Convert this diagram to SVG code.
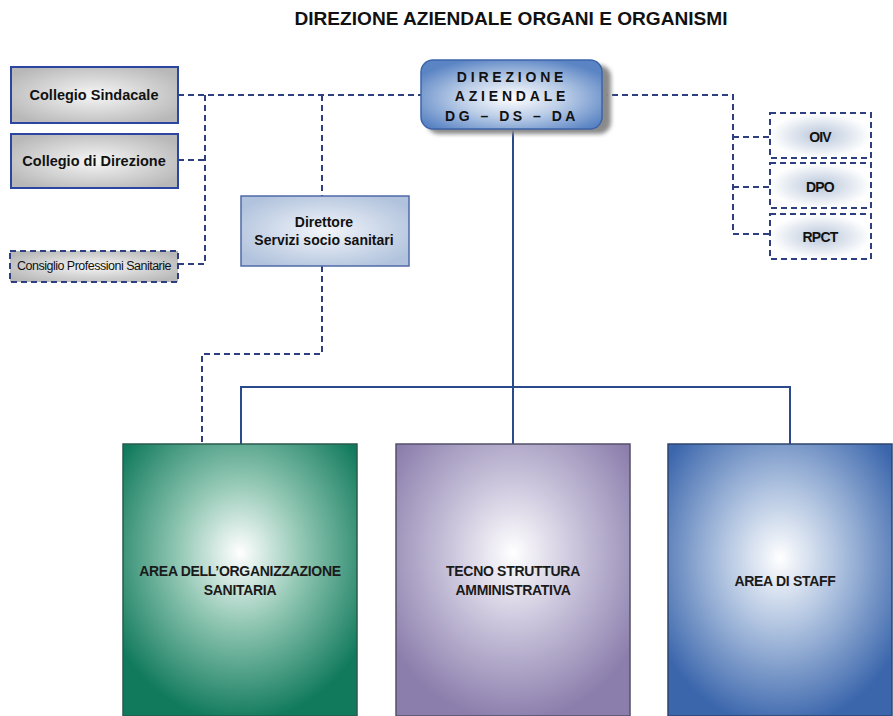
<svg xmlns="http://www.w3.org/2000/svg" width="893" height="716" viewBox="0 0 893 716">
<style>
.t{font-family:"Liberation Sans",Arial,sans-serif;fill:#111;text-anchor:middle}
.b{font-weight:bold}
.dash{fill:none;stroke:#2e3f80;stroke-width:2;stroke-dasharray:6,4}
.solid{fill:none;stroke:#2b4a8c;stroke-width:2}
.area{font-size:14px;font-weight:bold;letter-spacing:-0.3px;fill:#1a1a1a}
.sm{font-size:14px;font-weight:bold;letter-spacing:-0.8px}
</style>
<defs>
<radialGradient id="gGreen" cx="0.5" cy="0.4" r="0.62">
<stop offset="0" stop-color="#ffffff"/><stop offset="0.45" stop-color="#8cc4b0"/><stop offset="1" stop-color="#117a5c"/>
</radialGradient>
<radialGradient id="gPurple" cx="0.5" cy="0.4" r="0.62">
<stop offset="0" stop-color="#ffffff"/><stop offset="0.45" stop-color="#c8c2da"/><stop offset="1" stop-color="#8b7eac"/>
</radialGradient>
<radialGradient id="gBlue" cx="0.5" cy="0.42" r="0.62">
<stop offset="0" stop-color="#ffffff"/><stop offset="0.45" stop-color="#a9bedd"/><stop offset="1" stop-color="#3b66ac"/>
</radialGradient>
<radialGradient id="gDir" cx="0.5" cy="0.55" r="0.6">
<stop offset="0" stop-color="#ffffff"/><stop offset="0.5" stop-color="#b8cbe6"/><stop offset="1" stop-color="#5a84c4"/>
</radialGradient>
<radialGradient id="gGray" cx="0.5" cy="0.5" r="0.6">
<stop offset="0" stop-color="#f6f6f6"/><stop offset="1" stop-color="#b8b8b8"/>
</radialGradient>
<radialGradient id="gLight" cx="0.5" cy="0.5" r="0.6">
<stop offset="0" stop-color="#f2f5fa"/><stop offset="1" stop-color="#b0c2dc"/>
</radialGradient>
<radialGradient id="gSmall" cx="0.5" cy="0.5" r="0.5">
<stop offset="0" stop-color="#b8c6da"/><stop offset="1" stop-color="#ffffff"/>
</radialGradient>
<filter id="sh" x="-10%" y="-10%" width="130%" height="140%">
<feGaussianBlur stdDeviation="2"/>
</filter>
</defs>

<text class="t b" x="511" y="25" font-size="17.5" textLength="433" lengthAdjust="spacingAndGlyphs">DIREZIONE AZIENDALE ORGANI E ORGANISMI</text>

<g id="connectors">
<path class="dash" d="M178,95 H421"/>
<path class="dash" d="M205,95 V264 H178"/>
<path class="dash" d="M178,160 H205"/>
<path class="dash" d="M322,95 V196"/>
<path class="dash" d="M322,266 V354 H202 V444"/>
<path class="dash" d="M602,95 H733 V234 H770"/>
<path class="dash" d="M733,137 H770"/>
<path class="dash" d="M733,187 H770"/>
<path class="solid" d="M513,129 V444"/>
<path class="solid" d="M241,444 V387 H790 V444"/>
</g>

<g id="direzione">
<rect x="427" y="65" width="184" height="69" rx="12" fill="#8a8a8a" filter="url(#sh)"/>
<rect x="421" y="60" width="181" height="69" rx="12" fill="url(#gDir)" stroke="#3d64a8" stroke-width="1.5"/>
<text class="t b" x="512" y="82" font-size="14" letter-spacing="3.8" fill="#222">DIREZIONE</text>
<text class="t b" x="512" y="101" font-size="14" letter-spacing="3.8">AZIENDALE</text>
<text class="t b" x="512" y="121" font-size="14" letter-spacing="3.5">DG – DS – DA</text>
</g>

<g id="collegio-sindacale">
<rect x="11" y="67" width="167" height="56" fill="url(#gGray)" stroke="#2b46a0" stroke-width="2"/>
<text class="t b" x="94" y="100" font-size="14.5">Collegio Sindacale</text>
</g>
<g id="collegio-direzione">
<rect x="11" y="134" width="167" height="54" fill="url(#gGray)" stroke="#2b46a0" stroke-width="2"/>
<text class="t b" x="94" y="166" font-size="14.5">Collegio di Direzione</text>
</g>
<g id="consiglio">
<rect x="10" y="251" width="168" height="31" fill="url(#gGray)"/>
<rect x="10" y="251" width="168" height="31" class="dash"/>
<text class="t" x="94" y="270" font-size="12.5" letter-spacing="-0.5">Consiglio Professioni Sanitarie</text>
</g>

<g id="direttore">
<rect x="241" y="196" width="168" height="70" fill="url(#gLight)" stroke="#4f6aa8" stroke-width="1.5"/>
<text class="t b" x="324" y="227" font-size="14">Direttore</text>
<text class="t b" x="324" y="245" font-size="14">Servizi socio sanitari</text>
</g>

<g id="oiv">
<rect x="770" y="113" width="101" height="45" fill="url(#gSmall)"/>
<rect x="770" y="113" width="101" height="45" class="dash"/>
<text class="t sm" x="820" y="142">OIV</text>
</g>
<g id="dpo">
<rect x="770" y="163" width="101" height="45" fill="url(#gSmall)"/>
<rect x="770" y="163" width="101" height="45" class="dash"/>
<text class="t sm" x="820" y="192">DPO</text>
</g>
<g id="rpct">
<rect x="770" y="214" width="101" height="45" fill="url(#gSmall)"/>
<rect x="770" y="214" width="101" height="45" class="dash"/>
<text class="t sm" x="820" y="242">RPCT</text>
</g>

<g id="area-sanitaria">
<rect x="123" y="444" width="234" height="272" fill="url(#gGreen)" stroke="#2a5a4c" stroke-width="1.5"/>
<text class="t area" x="240" y="576">AREA DELL’ORGANIZZAZIONE</text>
<text class="t area" x="240" y="595">SANITARIA</text>
</g>
<g id="tecno-struttura">
<rect x="396" y="444" width="234" height="272" fill="url(#gPurple)" stroke="#55506a" stroke-width="1.5"/>
<text class="t area" x="513" y="576">TECNO STRUTTURA</text>
<text class="t area" x="513" y="595">AMMINISTRATIVA</text>
</g>
<g id="area-staff">
<rect x="668" y="444" width="224" height="272" fill="url(#gBlue)" stroke="#2e466e" stroke-width="1.5"/>
<text class="t area" x="785" y="586">AREA DI STAFF</text>
</g>
</svg>
